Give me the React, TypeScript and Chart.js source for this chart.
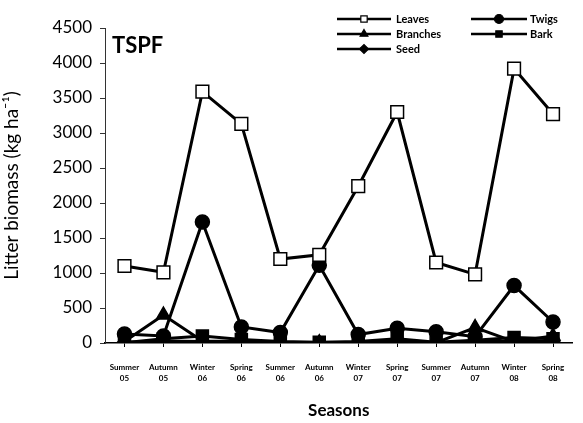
import React, { useEffect, useRef } from "react";
import { Chart, registerables } from "chart.js";
import { drawPoint } from "chart.js/helpers";

Chart.register(...registerables);

const seasons: string[][] = [
  ["Summer", "05"], ["Autumn", "05"], ["Winter", "06"], ["Spring", "06"],
  ["Summer", "06"], ["Autumn", "06"], ["Winter", "07"], ["Spring", "07"],
  ["Summer", "07"], ["Autumn", "07"], ["Winter", "08"], ["Spring", "08"],
];

const leaves = [1100, 1010, 3590, 3130, 1200, 1260, 2240, 3300, 1150, 980, 3920, 3270];
const twigs = [130, 100, 1730, 230, 150, 1110, 120, 210, 160, 90, 820, 300];
const branches = [20, 400, 30, 20, 5, 5, 5, 30, 5, 220, 20, 100];
const bark = [5, 60, 100, 50, 20, 10, 20, 60, 10, 40, 80, 60];
const seed = [10, 30, 20, 10, 5, 5, 5, 10, 5, 30, 20, 30];

const yTicks = [0, 500, 1000, 1500, 2000, 2500, 3000, 3500, 4000, 4500];

const FONT = "Lato, 'Open Sans', sans-serif";

// legend slots: [column, row]
const legendSlots: [number, number][] = [
  [0, 0], [1, 0], [0, 1], [1, 1], [0, 2],
];

const legendPlugin = {
  id: "cornerLegend",
  afterDraw(chart: any) {
    const ctx = chart.ctx as CanvasRenderingContext2D;
    ctx.save();
    // panel label
    ctx.fillStyle = "#000";
    ctx.font = `bold 22px ${FONT}`;
    ctx.textBaseline = "middle";
    ctx.textAlign = "left";
    ctx.fillText("TSPF", 112, 46);

    const colLine = [[337, 391], [471, 527]];
    const colText = [396, 530];
    const rowY = [19, 34, 49];
    ctx.font = `bold 11px ${FONT}`;
    chart.data.datasets.forEach((ds: any, i: number) => {
      const [c, r] = legendSlots[i];
      const y = rowY[r];
      const [x0, x1] = colLine[c];
      ctx.strokeStyle = "#000";
      ctx.lineWidth = 2.4;
      ctx.beginPath();
      ctx.moveTo(x0, y);
      ctx.lineTo(x1, y);
      ctx.stroke();
      ctx.fillStyle = ds.pointBackgroundColor;
      ctx.strokeStyle = "#000";
      ctx.lineWidth = 1.2;
      drawPoint(ctx, { pointStyle: ds.pointStyle, radius: 4.5, rotation: 0, borderWidth: 1.2 } as any, (x0 + x1) / 2, y);
      ctx.fillStyle = "#000";
      ctx.fillText(ds.label, colText[c], y);
    });
    ctx.restore();
  },
};

function series(label: string, data: number[], pointStyle: string, fill: string, radius: number) {
  return {
    label,
    data,
    borderColor: "#000",
    borderWidth: 3,
    pointStyle,
    pointRadius: radius,
    pointHoverRadius: radius,
    pointBackgroundColor: fill,
    pointBorderColor: "#000",
    pointBorderWidth: 1.5,
    tension: 0,
  };
}

export default function App() {
  const ref = useRef<HTMLCanvasElement>(null);

  useEffect(() => {
    const chart = new Chart(ref.current!, {
      type: "line",
      data: {
        labels: seasons,
        datasets: [
          series("Leaves", leaves, "rect", "#fff", 9),
          series("Twigs", twigs, "circle", "#000", 7),
          series("Branches", branches, "triangle", "#000", 8),
          series("Bark", bark, "rect", "#000", 8.5),
          series("Seed", seed, "rectRot", "#000", 7),
        ] as any,
      },
      options: {
        animation: false,
        responsive: false,
        maintainAspectRatio: false,
        layout: { padding: { top: 28, right: 3, left: 0, bottom: 0 } },
        plugins: {
          legend: { display: false },
          tooltip: { enabled: false },
        },
        scales: {
          x: {
            type: "category",
            offset: true,
            afterFit(scale: any) {
              scale.height = 80;
            },
            grid: {
              display: true,
              drawOnChartArea: false,
              drawTicks: true,
              tickLength: 4,
              color: "#000",
              lineWidth: 1,
            },
            border: { display: true, color: "#000", width: 1.5 },
            ticks: {
              color: "#000",
              font: { family: FONT, size: 8, weight: "bold", lineHeight: 1.35 },
              padding: 15,
              maxRotation: 0,
              autoSkip: false,
            },
            title: {
              display: true,
              text: "Seasons",
              color: "#000",
              font: { family: FONT, size: 17, weight: "bold" },
              padding: { top: 0, bottom: 2 },
            },
          },
          y: {
            min: 0,
            max: 4500,
            afterFit(scale: any) {
              scale.width = 105;
            },
            afterBuildTicks(scale: any) {
              scale.ticks = yTicks.map((v) => ({ value: v }));
            },
            grid: {
              display: true,
              drawOnChartArea: false,
              drawTicks: true,
              tickLength: 5,
              color: "#333",
              lineWidth: 1,
            },
            border: { display: true, color: "#333", width: 1 },
            ticks: {
              color: "#000",
              font: { family: FONT, size: 17 },
              padding: 8,
              callback: (v: any) => String(v),
            },
            title: {
              display: true,
              text: "Litter biomass (kg ha\u207B\u00B9)",
              color: "#000",
              font: { family: FONT, size: 19 },
              padding: { top: 0, bottom: 4 },
            },
          },
        },
      } as any,
      plugins: [legendPlugin],
    });
    return () => chart.destroy();
  }, []);

  return (
    <div style={{ position: "fixed", left: 0, top: 0, width: 583, height: 423, background: "#fff" }}>
      <canvas ref={ref} width={583} height={423} style={{ width: 583, height: 423, display: "block" }} />
    </div>
  );
}
